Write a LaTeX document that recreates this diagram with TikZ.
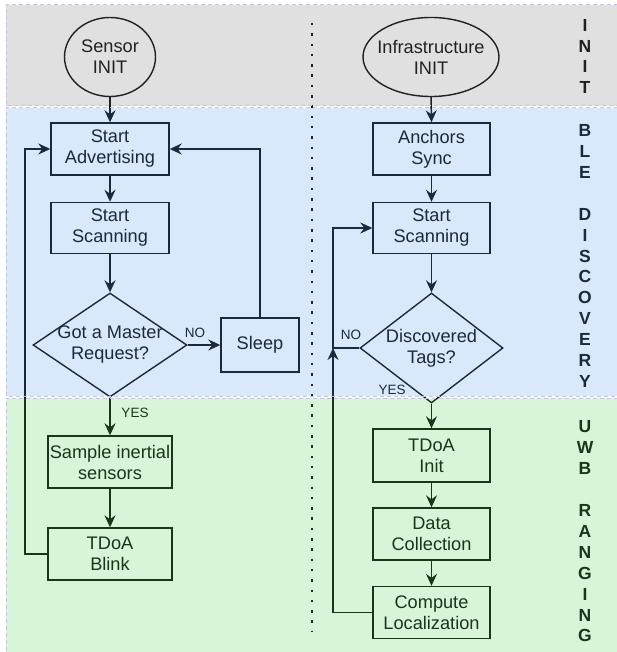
\documentclass[tikz,border=0pt]{standalone}
\usepackage{fontspec}
\setmainfont{Liberation Sans}
\usetikzlibrary{shapes.geometric,arrows.meta}
% band tints, laid over black line work with a fixed opacity
\definecolor{tintgray}{RGB}{132,132,132}
\definecolor{tintblue}{RGB}{108,164,244}
\definecolor{tintgreen}{RGB}{104,216,104}
\definecolor{bandedge}{RGB}{196,196,222}
\begin{document}
\begin{tikzpicture}[x=1pt,y=-1pt,
  txt/.style={font=\fontsize{18.2}{21}\selectfont, align=center, inner sep=0pt},
  proc/.style={txt, draw, line width=1.4pt, minimum width=118pt, minimum height=52pt},
  startnode/.style={draw, ellipse, line width=1.4pt, inner sep=0pt},
  decision/.style={draw, diamond, line width=1.4pt, inner sep=0pt},
  arr/.style={-{Stealth[length=12pt,width=11pt,inset=4pt]}, line width=1.5pt},
  edgelbl/.style={font=\fontsize{13.5}{16}\selectfont, inner sep=0pt},
  phase/.style={font=\fontsize{17.5}{20.9}\selectfont\bfseries, align=center, inner sep=0pt},
  band/.style={fill opacity=0.25},
  bandline/.style={draw=bandedge, line width=1pt, dash pattern=on 4pt off 3pt}
]
\useasboundingbox (0,0) rectangle (617,652);
\fill[white] (0,0) rectangle (617,652);

% ---------- sensor side ----------
\node[startnode, minimum width=91pt, minimum height=79pt] (sinit) at (110,57) {};
\node[txt] (sinitt) at (sinit) {Sensor\\INIT};
\node[proc] (adv) at (110,149) {Start\\Advertising};
\node[proc, minimum height=51pt] (scanL) at (110,228) {Start\\Scanning};
\node[decision, minimum width=154pt, minimum height=104pt] (q1) at (110,345) {};
\node[txt] (q1t) at (110,345) {Got a Master\\Request?};
\node[proc, minimum width=78pt, minimum height=54pt] (sleep) at (260,345) {Sleep};
\node[proc, minimum width=124pt] (sample) at (110,462) {Sample inertial\\sensors};
\node[proc, minimum width=124pt] (blink) at (110,554) {TDoA\\Blink};
\coordinate (lx) at (25,0);

\draw[arr] (sinit.south) -- (adv.north);
\draw[arr] (adv.south) -- (scanL.north);
\draw[arr] (scanL.south) -- (q1.north);
\draw[arr] (q1.east) -- (sleep.west);
\draw[arr] (q1.south) -- (sample.north);
\draw[arr] (sample.south) -- (blink.north);
\draw[arr] (blink.west) -- (blink.west -| lx) |- (adv.west);
\draw[arr] (sleep.north) |- (adv.east);
\node[edgelbl] (no1) at (195,333) {NO};
\node[edgelbl] (yes1) at (135,413) {YES};

% ---------- infrastructure side ----------
\node[startnode, minimum width=136pt, minimum height=79pt] (iinit) at (431,57) {};
\node[txt] (iinitt) at (iinit) {Infrastructure\\INIT};
\node[proc, minimum width=117pt] (anch) at (431.5,149) {Anchors\\Sync};
\node[proc, minimum width=117pt, minimum height=51pt] (scanR) at (431.5,228) {Start\\Scanning};
\node[decision, minimum width=143pt, minimum height=110pt] (q2) at (431.5,348) {};
\node[txt] (q2t) at (431.5,348) {Discovered\\Tags?};
\node[proc, minimum width=117pt, minimum height=53pt] (tinit) at (431.5,455.5) {TDoA\\Init};
\node[proc, minimum width=117pt] (data) at (431.5,534) {Data\\Collection};
\node[proc, minimum width=117pt] (comp) at (431.5,612.5) {Compute\\Localization};
\coordinate (rx) at (333,0);

\draw[arr] (iinit.south) -- (anch.north);
\draw[arr] (anch.south) -- (scanR.north);
\draw[arr] (scanR.south) -- (q2.north);
\draw[arr] (q2.south) -- (tinit.north);
\draw[arr] (tinit.south) -- (data.north);
\draw[arr] (data.south) -- (comp.north);
\draw[arr] (q2.west) -- (q2.west -| rx) |- (scanR.west);
\draw[arr] (comp.west) -- (comp.west -| rx) -- (q2.west -| rx);
\node[edgelbl] (no2) at (351,335) {NO};
\node[edgelbl] (yes2) at (392,390) {YES};

% ---------- divider between the two sides ----------
\coordinate (dtop) at (312,23);
\coordinate (dbot) at (312,632);
\draw[line width=2.5pt, dash pattern=on 2.5pt off 7.8pt] (dtop) -- (dbot);

% ---------- phase names ----------
\node[phase] (ph1) at (585,56.5) {I\\N\\I\\T};
\node[phase] (ph2) at (585,256) {B\\L\\E\\[20.9pt]D\\I\\S\\C\\O\\V\\E\\R\\Y};
\node[phase] (ph3) at (585,531.5) {U\\W\\B\\[20.9pt]R\\A\\N\\G\\I\\N\\G};

% ---------- phase bands ----------
\fill[tintgray, band] (6,5) rectangle (625,106);
\fill[tintblue, band] (6,108) rectangle (625,396);
\fill[tintgreen, band] (6,398) rectangle (625,660);
\draw[bandline] (625,5) -- (6,5) -- (6,106) -- (625,106);
\draw[bandline] (625,108) -- (6,108) -- (6,396) -- (625,396);
\draw[bandline] (625,398) -- (6,398) -- (6,660);
\end{tikzpicture}
\end{document}
